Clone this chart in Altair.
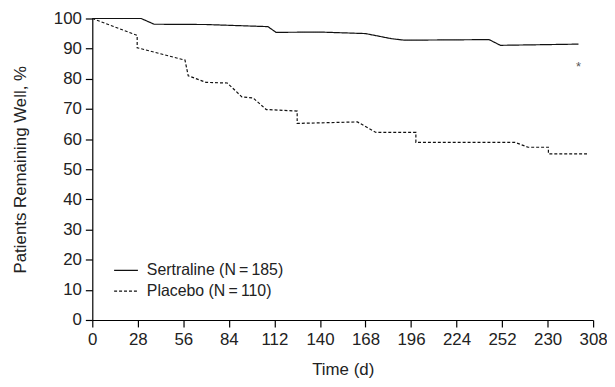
import altair as alt
import pandas as pd

# --- data ---
sert_days = [0, 30, 38, 70, 108, 113, 140, 168, 184, 192, 244, 251, 299]
sert_vals = [100, 100, 98.1, 98.0, 97.3, 95.4, 95.5, 95.0, 93.3, 92.8, 93.0, 91.1, 91.5]

plac_days = [0, 27.6, 27.6, 57, 59, 70, 83, 92, 99, 107, 126, 126, 163, 174.5, 199, 199, 260, 268, 280.5, 280.5, 305]
plac_vals = [100, 94.4, 90.3, 86.2, 81.0, 78.8, 78.6, 74.0, 73.6, 69.8, 69.3, 65.2, 65.7, 62.2, 62.2, 58.9, 58.9, 57.3, 57.3, 55.1, 55.1]

series_names = ["Sertraline (N\u2009=\u2009185)", "Placebo (N\u2009=\u2009110)"]

x_ticks = [0, 28, 56, 84, 112, 140, 168, 196, 224, 252, 280, 308]
x_tick_labels = ["0", "28", "56", "84", "112", "140", "168", "196", "224", "252", "230", "308"]
y_ticks = [0, 10, 20, 30, 40, 50, 60, 70, 80, 90, 100]

star_day = [299]
star_val = [84.0]

rows = []
for i, (d, v) in enumerate(zip(sert_days, sert_vals)):
    rows.append({"day": d, "pct": v, "group": series_names[0], "ord": i})
for i, (d, v) in enumerate(zip(plac_days, plac_vals)):
    rows.append({"day": d, "pct": v, "group": series_names[1], "ord": i})
df = pd.DataFrame(rows)

star_df = pd.DataFrame({"day": star_day, "pct": star_val, "t": ["*"]})

label_expr = " : ".join(
    f"datum.value == {v} ? '{l}'" for v, l in zip(x_ticks, x_tick_labels)
) + " : datum.label"

FONT = "Liberation Sans"

x_enc = alt.X(
    "day:Q",
    scale=alt.Scale(domain=[0, 308], nice=False, zero=False),
    axis=alt.Axis(
        values=x_ticks,
        labelExpr=label_expr,
        title="Time (d)",
        grid=False,
        tickSize=7,
        labelPadding=5,
        titlePadding=14,
        labelOverlap=False,
        labelFlush=False,
    ),
)
y_enc = alt.Y(
    "pct:Q",
    scale=alt.Scale(domain=[0, 100], nice=False),
    axis=alt.Axis(
        values=y_ticks,
        title="Patients Remaining Well, %",
        grid=False,
        tickSize=7,
        labelPadding=4,
        titlePadding=24,
        labelOverlap=False,
        labelFlush=False,
    ),
)

lines = alt.Chart(df).mark_line(color="#111", strokeWidth=1.2).encode(
    x=x_enc,
    y=y_enc,
    detail="group:N",
    order="ord:Q",
    strokeDash=alt.StrokeDash(
        "group:N",
        scale=alt.Scale(domain=series_names, range=[[1, 0], [3, 2]]),
        legend=alt.Legend(
            title=None,
            orient="none",
            legendX=21,
            legendY=241,
            symbolType="stroke",
            symbolSize=576,
            symbolStrokeColor="#111",
            symbolStrokeWidth=1.2,
            labelFontSize=16,
            labelFont=FONT,
            labelColor="#222",
            rowPadding=0,
            labelOffset=8,
        ),
    ),
)

star = alt.Chart(star_df).mark_text(fontSize=13, color="#555", font=FONT, baseline="middle").encode(
    x=x_enc, y=y_enc, text="t:N"
)

chart = (
    alt.layer(lines, star)
    .properties(
        width=505,
        height=304,
        autosize=alt.AutoSizeParams(type="none"),
        padding={"left": 85, "top": 9, "right": 14, "bottom": 66},
    )
    .configure_view(stroke=None)
    .configure_axis(
        domainColor="black",
        tickColor="black",
        labelColor="#222",
        titleColor="#222",
        labelFont=FONT,
        titleFont=FONT,
        labelFontSize=17,
        titleFontSize=17,
        titleFontWeight="normal",
        domainWidth=1.2,
        tickWidth=1.2,
        labelOverlap=False,
    )
)

chart.save("out.html", embed_options={"renderer": "svg", "actions": False})
